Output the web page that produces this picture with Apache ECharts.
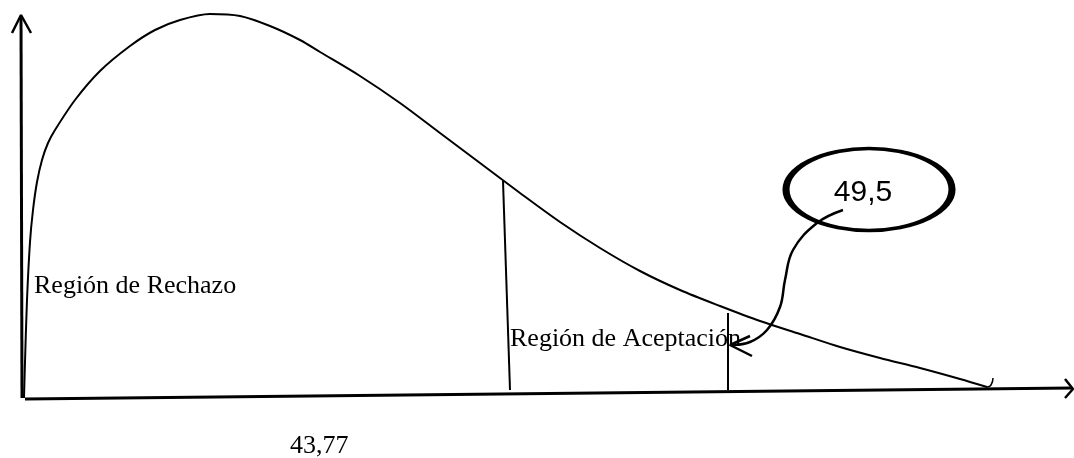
<!DOCTYPE html>
<html>
<head>
<meta charset="utf-8">
<script src="https://cdn.jsdelivr.net/npm/echarts@6/dist/echarts.min.js"></script>
<style>
  html, body { margin: 0; padding: 0; background: #fff; }
  #main { width: 1074px; height: 458px; }
</style>
</head>
<body>
<div id="main"></div>
<script>
// dibujo en unidades de la hoja (x a la derecha, y hacia abajo)
var curvaPts = [[24,398],[25,362],[27,300],[30,242],[33,210],[37,182],[42,160],[48,143],[55,130],[75,100],[100,71],[130,46],[155,30],[180,20],[210,14],[240,16],[270,26],[300,40],[320,52],[360,76],[400,103],[440,133],[480,163],[520,193],[560,222],[600,248],[640,271],[680,290],[720,306],[760,321],[800,334],[840,347],[880,358],[920,368],[960,379],[987,387]];
var colaPts = [[987,387],[991,385],[993,378]];
var ejeYPts = [[22,398],[21,16]];
var puntaYPts = [[12,33],[21,15],[31,33]];
var ejeXPts = [[25,399],[1072,388]];
var puntaXPts = [[1065,379],[1073,389],[1065,398]];
var corte1Pts = [[503,181],[510,390]];
var corte2Pts = [[728,313],[728,390]];
var flechaPts = [[843,210],[817,223],[793,250],[785,280],[780,307],[767,330],[750,342],[732,345]];
var puntaFlechaPts = [[750,336],[730,345],[752,356]];
var ovaloPt = [869,189.5];

var etiquetas = [
    {name: 'Región de Rechazo', value: [34,286]},
    {name: 'Región de Aceptación', value: [510,339]},
    {name: '43,77', value: [290,446]}
];
var valorCritico = '49,5';

var chart = echarts.init(document.getElementById('main'));

function trazo(data, ancho, suave) {
    return {
        type: 'line',
        data: data,
        smooth: suave || false,
        symbol: 'none',
        clip: false,
        silent: true,
        lineStyle: {color: '#000', width: ancho}
    };
}

var option = {
    backgroundColor: '#fff',
    animation: false,
    grid: {left: 0, right: 0, top: 0, bottom: 0},
    xAxis: {type: 'value', min: 0, max: 1074, show: false},
    yAxis: {type: 'value', min: 0, max: 458, inverse: true, show: false},
    series: [
        trazo(ejeYPts, 3),
        trazo(puntaYPts, 2.5),
        trazo(ejeXPts, 3),
        trazo(puntaXPts, 2.5),
        trazo(curvaPts, 2, 0.3),
        trazo(colaPts, 1.5, 0.6),
        trazo(corte1Pts, 2),
        trazo(corte2Pts, 2),
        trazo(flechaPts, 2.5, 0.4),
        trazo(puntaFlechaPts, 2.5),
        {
            type: 'scatter',
            data: [ovaloPt],
            symbol: 'circle',
            symbolSize: [166, 82],
            silent: true,
            itemStyle: {color: 'rgba(0,0,0,0)', borderColor: '#000', borderWidth: 5, opacity: 1},
            label: {
                show: true,
                position: 'inside',
                offset: [-6, 3],
                formatter: valorCritico,
                color: '#000',
                fontFamily: 'Liberation Sans',
                fontSize: 30
            }
        },
        {
            type: 'scatter',
            data: etiquetas,
            symbolSize: 0,
            silent: true,
            itemStyle: {opacity: 1},
            label: {
                show: true,
                position: [0, 0],
                align: 'left',
                verticalAlign: 'middle',
                formatter: '{b}',
                color: '#000',
                fontFamily: 'Liberation Serif',
                fontSize: 26
            }
        }
    ]
};
chart.setOption(option);
</script>
</body>
</html>
